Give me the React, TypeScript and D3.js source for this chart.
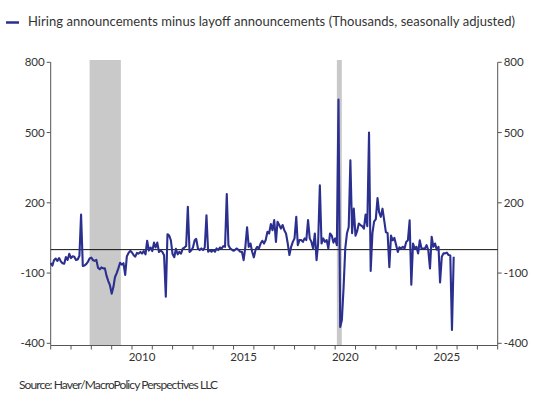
import * as d3 from "d3";

// monthly net announcements (thousands), Jan of each year first
const y2006_2009 = [
  -58, -68, -45, -38, -48, -36, -50, -58, -60, -32, -44, -18,
  -36, -28, -30, -44, -42, -26, 150, -70, -68, -62, -52, -38,
  -34, -45, -48, -44, -78, -84, -76, -80, -80, -112, -134, -152,
  -188, -160, -118, -100, -80, -56, -64, -58, -108, -28, -14, -5,
];
const y2010_2014 = [
  -12, -24, -30, -14, -17, -10, -17, -6, -20, 38, -4, 9,
  -6, 30, 9, 30, -10, -4, -10, -24, -201, 66, 60, 40,
  -20, -32, 4, -20, -10, -17, 4, 9, 16, 183, -10, -4,
  9, 40, 46, 5, -2, 5, -2, 9, 147, -9, -2, -9,
  -2, -9, 5, -2, 9, 5, 15, 12, 237, 19, 5, 0,
];
const y2015_2019 = [
  -5, 0, 5, -2, -9, -9, -45, 12, 95, 12, 26, -9,
  -33, 0, 12, 5, 26, 38, 26, 41, 76, 69, 109, 83,
  126, 33, 119, 105, 90, 105, 83, 69, 26, -23, 12, 33,
  48, 140, 19, 41, 41, 33, 48, 41, 126, 48, 33, 5,
  69, -45, 26, 275, 26, 48, 33, 41, 5, 69, 60, 30,
];
const y2020_2025 = [
  48, 19, 641, -330, -300, -160, 5, 70, 97, 382, 70, 175,
  60, 80, 111, 105, 100, 90, 150, 100, 500, -91, 69, 120,
  130, 220, 160, 140, 175, 125, 75, 70, -75, 60, 40, 50,
  20, -10, 10, 5, 12, 5, 33, 40, 125, -150, 26, 5,
  12, -16, 40, 5, 5, 5, 19, -2, -80, 55, 12, 26,
  0, 12, -140, -30, -16, -16, -13, -23, -25, -343, -30,
];
const values = [...y2006_2009, ...y2010_2014, ...y2015_2019, ...y2020_2025];
const startYear = 2006;

const recessions = [
  ["2007-12-01", "2009-06-15"],
  ["2020-02-01", "2020-04-30"],
];
const yTicks = [800, 500, 200, -100, -400];
const yearLabels = [2010, 2015, 2020, 2025];

const W = 546;
const H = 399;
const left = 50.7;
const right = 497.7;
const top = 62.3;
const bottom = 343.3;
const axisY = 345.5;
const lineColor = "#2b2f8e";
const textColor = "#333";
const font = "Lato, 'Open Sans', sans-serif";

export default function App() {
  const x = d3
    .scaleTime()
    .domain([new Date(2006, 0, 1), new Date(2028, 0, 1)])
    .range([left, right]);
  const y = d3.scaleLinear().domain([-400, 800]).range([bottom, top]);

  const data = values.map((v, i) => ({ date: new Date(startYear, i, 1), v }));
  const line = d3
    .line<{ date: Date; v: number }>()
    .x((d) => x(d.date))
    .y((d) => y(d.v));

  const yearTicks = x.ticks(d3.timeYear.every(1)!);

  return (
    <svg width={W} height={H} style={{ position: "absolute", left: 0, top: 0 }}>
      <rect width={W} height={H} fill="#fff" />
      {/* legend */}
      <line x1={6} x2={19} y1={22.5} y2={22.5} stroke={lineColor} strokeWidth={2.5} />
      <text x={28} y={26} fontFamily={font} fontSize={13} fill={textColor} textLength={487} lengthAdjust="spacing">
        Hiring announcements minus layoff announcements (Thousands, seasonally adjusted)
      </text>

      {/* recession shading */}
      {recessions.map(([a, b], i) => (
        <rect
          key={i}
          x={x(new Date(a))}
          y={60}
          width={x(new Date(b)) - x(new Date(a))}
          height={axisY - 60}
          fill="#c9c9c9"
        />
      ))}

      {/* axes */}
      <g stroke="#555" strokeWidth={1}>
        <line x1={left} x2={left} y1={top} y2={axisY} />
        <line x1={right} x2={right} y1={top} y2={axisY} />
        <line x1={left} x2={right} y1={axisY} y2={axisY} />
        {yTicks.map((t) => (
          <g key={t}>
            <line x1={left - 4} x2={left} y1={y(t)} y2={y(t)} />
            <line x1={right} x2={right + 4} y1={y(t)} y2={y(t)} />
          </g>
        ))}
        {yearTicks.map((d, i) => (
          <line key={i} x1={x(d)} x2={x(d)} y1={axisY} y2={axisY + 4} />
        ))}
      </g>
      <g fontFamily={font} fontSize={11.5} fill={textColor}>
        {yTicks.map((t) => (
          <g key={t}>
            <text x={left - 6} y={y(t) + 4} textAnchor="end">
              {t}
            </text>
            <text x={right + 6} y={y(t) + 4} textAnchor="start">
              {t}
            </text>
          </g>
        ))}
        {yearLabels.map((yr) => (
          <text key={yr} x={x(new Date(yr, 6, 1))} y={361} textAnchor="middle">
            {yr}
          </text>
        ))}
      </g>

      {/* zero line */}
      <line x1={left} x2={right} y1={y(0)} y2={y(0)} stroke="#111" strokeWidth={1} />

      <path d={line(data) ?? ""} fill="none" stroke={lineColor} strokeWidth={2.1} strokeLinejoin="round" />

      <text x={19} y={389} fontFamily={font} fontSize={12} fill={textColor} textLength={199} lengthAdjust="spacing">
        Source:  Haver/MacroPolicy Perspectives LLC
      </text>
    </svg>
  );
}
